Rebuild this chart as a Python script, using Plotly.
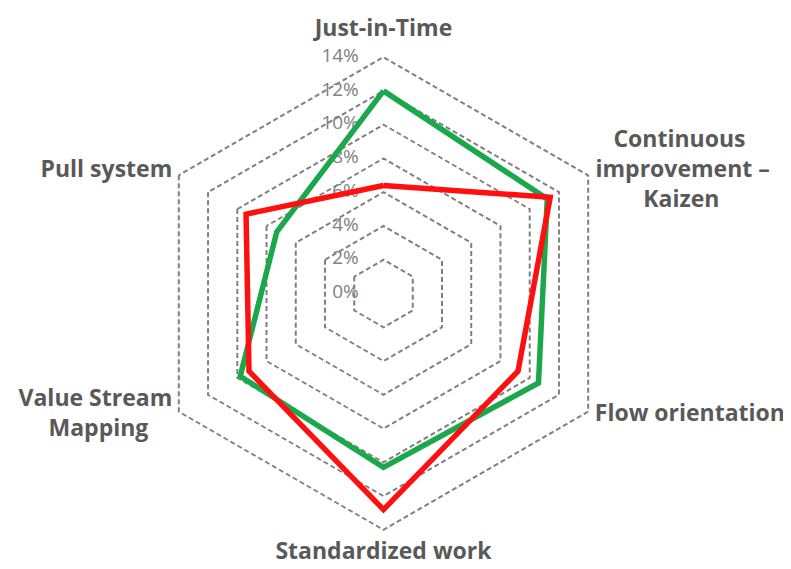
import plotly.graph_objects as go

# Catégories du radar (sens horaire depuis le haut)
categories = [
    "Just-in-Time",
    "Continuous improvement – Kaizen",
    "Flow orientation",
    "Standardized work",
    "Value Stream Mapping",
    "Pull system",
]

# Libellés affichés (retours à la ligne comme sur l'original)
NB = "\u00a0"
label_text = [
    "Just-in-Time",
    NB * 3 + "Continuous<br>improvement –<br>" + NB * 8 + "Kaizen",
    "Flow orientation",
    "Standardized work",
    "Value Stream<br>Mapping" + NB * 4,
    "Pull system",
]

# Valeurs en %
green_values = [12.0, 11.2, 10.6, 10.3, 9.8, 7.3]
red_values = [6.4, 11.4, 9.2, 12.8, 9.2, 9.4]

tick_vals = [0, 2, 4, 6, 8, 10, 12, 14]
tick_text = [f"{v}%" for v in tick_vals]

# Placement des libellés de catégories (hors données)
label_r = [14.9, 14.5, 14.45, 14.7, 14.45, 14.45]
label_pos = ["top center", "middle right", "middle right",
             "bottom center", "middle left", "middle left"]


def closed(vals):
    return vals + vals[:1]


fig = go.Figure()

# Étiquettes de l'axe radial (à gauche de l'axe vertical, comme Excel)
fig.add_trace(go.Scatterpolar(
    r=[max(v, 0.02) for v in tick_vals],  # r=0 exact n'est pas affiché
    theta=[categories[0]] * len(tick_vals),
    mode="text",
    text=[t + NB * 5 for t in tick_text],
    textposition="middle left",
    textfont=dict(family="Open Sans", size=19, color="#808080"),
    hoverinfo="skip",
))
# Libellés des catégories
fig.add_trace(go.Scatterpolar(
    r=label_r,
    theta=categories,
    mode="text",
    text=label_text,
    textposition=label_pos,
    textfont=dict(family="Open Sans", size=23, color="#595959", weight="bold"),
    hoverinfo="skip",
))
fig.add_trace(go.Scatterpolar(
    r=closed(green_values),
    theta=closed(categories),
    mode="lines",
    line=dict(color="#1aa84b", width=5.5),
    name="Green",
))
fig.add_trace(go.Scatterpolar(
    r=closed(red_values),
    theta=closed(categories),
    mode="lines",
    line=dict(color="#ff0f0f", width=5.5),
    name="Red",
))

fig.update_layout(
    width=791,
    height=569,
    margin=dict(l=102, r=142, t=12, b=10),
    paper_bgcolor="white",
    showlegend=False,
    polar=dict(
        bgcolor="white",
        gridshape="linear",
        radialaxis=dict(
            range=[-0.001, 16.2],
            tickvals=tick_vals,
            showticklabels=False,
            angle=90,
            showline=False,
            ticks="",
            gridcolor="#808080",
            griddash="5px,3px",
            gridwidth=1.5,
        ),
        angularaxis=dict(
            direction="clockwise",
            rotation=90,
            showgrid=False,
            showline=False,
            showticklabels=False,
            ticks="",
        ),
    ),
)

fig.write_html("out.html")
